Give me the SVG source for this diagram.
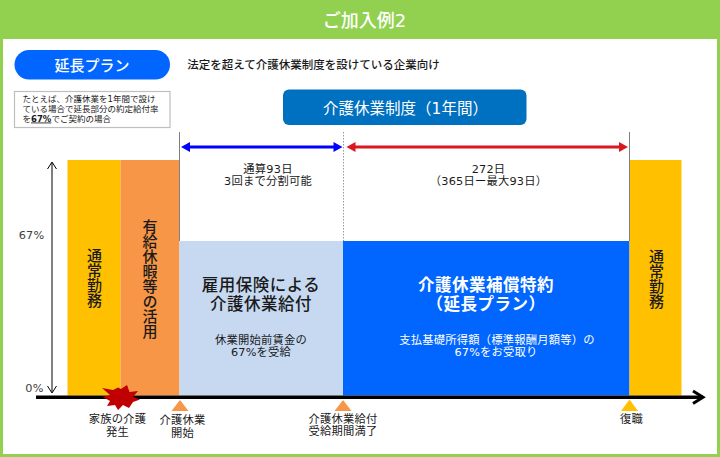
<svg xmlns="http://www.w3.org/2000/svg" width="720" height="457" viewBox="0 0 720 457">
<defs>
<style>
text{font-family:"DejaVu Sans","Noto Sans CJK JP",sans-serif;text-anchor:middle;fill:#1a1a1a}
.w{fill:#fff}
.v{writing-mode:vertical-rl;font-size:15px;font-weight:500}
.l{font-size:11.300px;letter-spacing:.2px}
.h{font-size:16.500px;letter-spacing:.5px}
.n{font-size:8.500px;text-anchor:start}
</style>
</defs>
<rect width="720" height="457" fill="#92d050"/>
<rect x="3" y="39" width="714" height="415" fill="#fff"/>
<g id="title"><text class="w" x="364.500" y="27" font-size="18" font-weight="500">ご加入例2</text></g>
<g id="plan"><rect x="14.500" y="50" width="155.500" height="29.500" rx="14.700" fill="#0066ff"/><text class="w" x="92" y="71" font-size="15" font-weight="500">延長プラン</text></g>
<g id="plan-note"><text x="313.500" y="69" font-size="11.500" font-weight="500" fill="#000">法定を超えて介護休業制度を設けている企業向け</text></g>
<g id="note"><rect x="14.500" y="91.500" width="155.500" height="36" fill="#fff" stroke="#bfbfbf" stroke-width="1.200"/>
<text class="n" x="22.500" y="102">たとえば、介護休業を1年間で設け</text>
<text class="n" x="22.500" y="112">ている場合で延長部分の約定給付率</text>
<text class="n" x="22.500" y="121.500">を<tspan font-weight="700" text-decoration="underline">67%</tspan>でご契約の場合</text></g>
<g id="period"><rect x="283" y="89.500" width="243.500" height="35.500" rx="6" fill="#0070c0"/><text class="w" x="405.500" y="113.500" font-size="15.500">介護休業制度（1年間）</text></g>
<g id="bar-work-left"><rect x="67.500" y="160" width="53" height="235.500" fill="#ffc000"/><text class="v" x="93" y="278">通常勤務</text></g>
<g id="bar-leave"><rect x="120.500" y="160" width="59" height="235.500" fill="#f79646"/><text class="v" x="148.500" y="279">有給休暇等の活用</text></g>
<g id="bar-koyo"><rect x="179.500" y="241" width="163.500" height="154.500" fill="#c6d9f1"/>
<text class="h" x="261" y="290.500" font-weight="500">雇用保険による</text><text class="h" x="261" y="309.500" font-weight="500">介護休業給付</text>
<text class="l" x="261" y="343.750">休業開始前賃金の</text><text class="l" x="261" y="356.250">67%を受給</text></g>
<g id="bar-tokuyaku"><rect x="343" y="241" width="286.500" height="154.500" fill="#0066ff"/>
<text class="w h" x="486" y="290.500" font-weight="700">介護休業補償特約</text><text class="w h" x="486" y="309.500" font-weight="700">（延長プラン）</text>
<text class="w l" x="497" y="343.750">支払基礎所得額（標準報酬月額等）の</text><text class="w l" x="496" y="356.250">67%をお受取り</text></g>
<g id="bar-work-right"><rect x="629.500" y="160" width="52" height="235.500" fill="#ffc000"/><text class="v" x="655" y="279">通常勤務</text></g>
<g id="connectors" fill="none">
<path d="M179.500 132V241M629.500 132V241" stroke="#7f7f7f" stroke-width="1"/>
<path d="M343.500 132V241" stroke="#7f7f7f" stroke-width="0.800" stroke-dasharray="1.500 1.500"/>
<path d="M188 147H336" stroke="#0000ff" stroke-width="3"/><path d="M181 147l9-5v10zM342.500 147l-9-5v10z" fill="#0000ff"/>
<path d="M355 147H622" stroke="#d9181f" stroke-width="3"/><path d="M346.500 147l9-5v10zM628 147l-9-5v10z" fill="#d9181f"/>
<path d="M52 163V392M47.500 169l4.500-7 4.500 7M47.500 386l4.500 7 4.500-7" stroke="#000" stroke-width="1"/>
<path d="M36 397.300H703" stroke="#000" stroke-width="3.500"/><path d="M693 391l10 6.300-10 6.300" stroke="#000" stroke-width="3"/>
</g>
<g id="labels"><text class="l" x="31.500" y="239" style="fill:#404040">67%</text><text class="l" x="34.500" y="392" style="fill:#404040">0%</text>
<text class="l" x="268" y="172.750">通算93日</text><text class="l" x="268" y="185.250">3回まで分割可能</text>
<text class="l" x="488.500" y="172.750">272日</text><text class="l" x="488.500" y="185.250">（365日ー最大93日）</text></g>
<g id="burst"><path d="M102 388L113 390L118 387.500L121 389L127 385L129.500 392L138 391L133 397L140 399.500L133 402L129 408L123 405L118 410L115 405L107 406L110 401L103 397L110 395z" fill="#c00000"/></g>
<g id="event"><text class="l" x="117.500" y="423">家族の介護</text><text class="l" x="117.500" y="435.500">発生</text></g>
<g id="marker-start"><path d="M180 400l8.500 11h-17z" fill="#f79646"/><text class="l" x="182.500" y="424">介護休業</text><text class="l" x="182.500" y="436.500">開始</text></g>
<g id="marker-end"><path d="M343 400l8.500 11h-17z" fill="#f79646"/><text class="l" x="343" y="422.750">介護休業給付</text><text class="l" x="343" y="435.250">受給期間満了</text></g>
<g id="marker-return"><path d="M629.500 399.500l8.500 11.500h-17z" fill="#ffc000"/><text class="l" x="631.500" y="423">復職</text></g>
</svg>
